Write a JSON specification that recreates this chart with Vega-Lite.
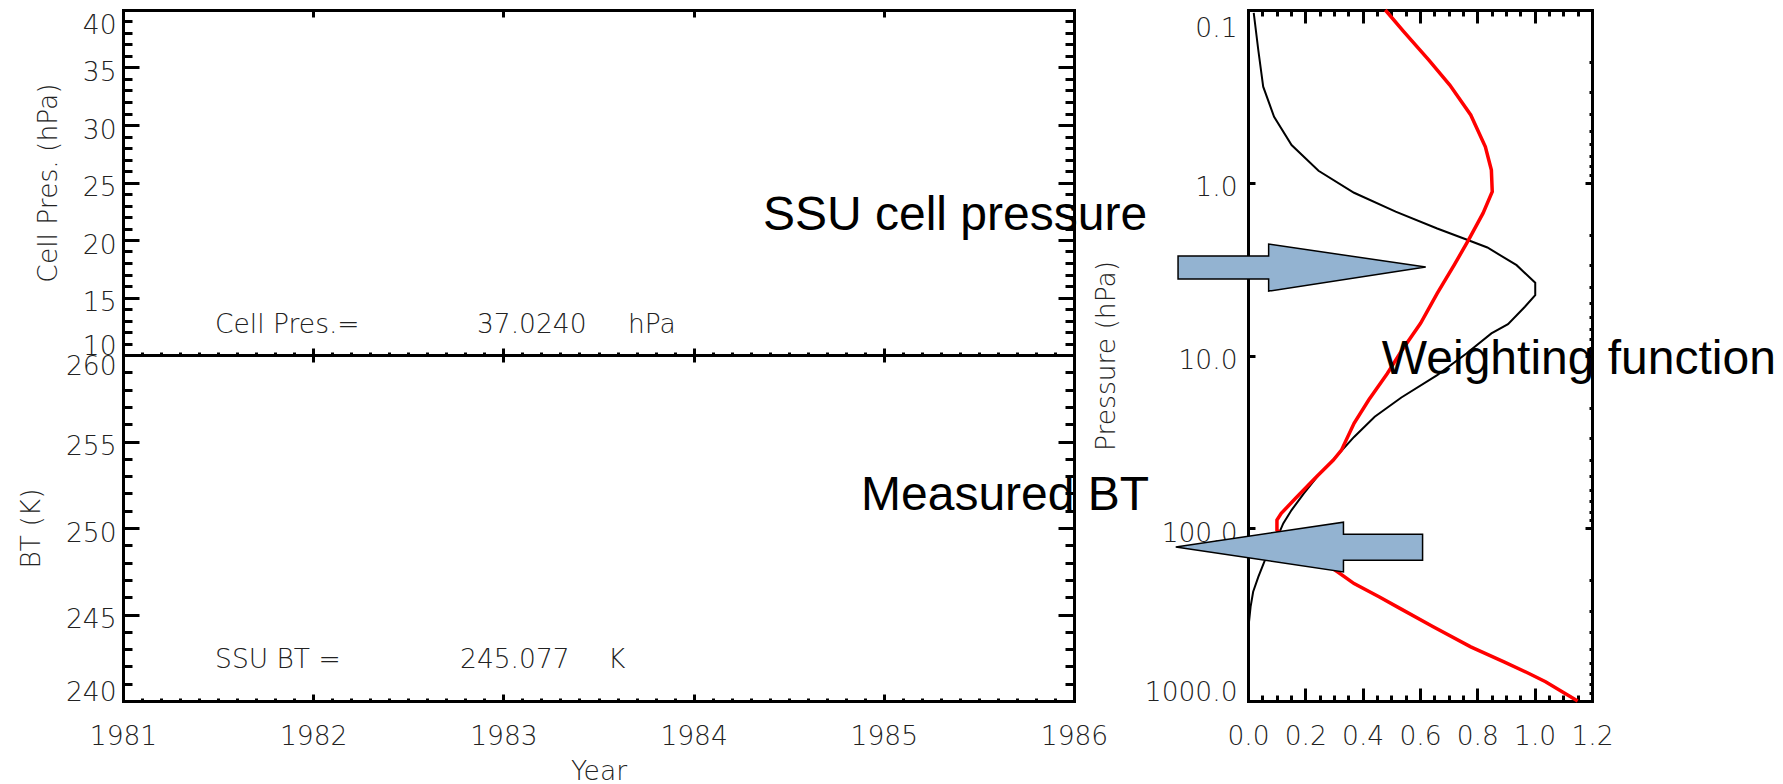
{
  "$schema": "https://vega.github.io/schema/vega-lite/v6.json",
  "background": "white",
  "padding": {"left": 18, "top": 3, "right": 5, "bottom": 0},
  "config": {
    "view": {"stroke": null},
    "axis": {
      "domainColor": "black", "domainWidth": 3, "domainCap": "square",
      "tickColor": "black", "tickWidth": 3, "tickCap": "butt",
      "grid": false,
      "labelFont": "DejaVu Sans", "labelFontSize": 26.5, "labelFontWeight": 200, "labelColor": "#222",
      "titleFont": "DejaVu Sans", "titleFontSize": 26.5, "titleFontWeight": 200, "titleColor": "#222",
      "labelOverlap": false, "labelBound": false
    }
  },
  "datasets": {
    "annTop": [
      {"year": 1981.484, "v": 11.9, "txt": "Cell Pres.="},
      {"year": 1982.861, "v": 11.9, "txt": "37.0240"},
      {"year": 1983.655, "v": 11.9, "txt": "hPa"}
    ],
    "annBottom": [
      {"year": 1981.484, "v": 241.9, "txt": "SSU BT ="},
      {"year": 1982.772, "v": 241.9, "txt": "245.077"},
      {"year": 1983.55, "v": 241.9, "txt": "K"}
    ],
    "black": [
      {"i": 0, "w": 0.02, "p": 0.104},
      {"i": 1, "w": 0.036, "p": 0.171},
      {"i": 2, "w": 0.053, "p": 0.278},
      {"i": 3, "w": 0.091, "p": 0.415},
      {"i": 4, "w": 0.152, "p": 0.605},
      {"i": 5, "w": 0.246, "p": 0.852},
      {"i": 6, "w": 0.37, "p": 1.143},
      {"i": 7, "w": 0.515, "p": 1.47},
      {"i": 8, "w": 0.66, "p": 1.84},
      {"i": 9, "w": 0.762, "p": 2.13},
      {"i": 10, "w": 0.835, "p": 2.37},
      {"i": 11, "w": 0.937, "p": 3.0},
      {"i": 12, "w": 1.002, "p": 3.79},
      {"i": 13, "w": 1.002, "p": 4.47},
      {"i": 14, "w": 0.966, "p": 5.22},
      {"i": 15, "w": 0.907, "p": 6.58},
      {"i": 16, "w": 0.849, "p": 7.45},
      {"i": 17, "w": 0.762, "p": 9.73},
      {"i": 18, "w": 0.66, "p": 12.98},
      {"i": 19, "w": 0.535, "p": 17.5},
      {"i": 20, "w": 0.442, "p": 22.6},
      {"i": 21, "w": 0.37, "p": 29.6},
      {"i": 22, "w": 0.312, "p": 37.8},
      {"i": 23, "w": 0.246, "p": 49.3},
      {"i": 24, "w": 0.195, "p": 62.9},
      {"i": 25, "w": 0.152, "p": 78.5},
      {"i": 26, "w": 0.123, "p": 93.8},
      {"i": 27, "w": 0.108, "p": 107},
      {"i": 28, "w": 0.079, "p": 134},
      {"i": 29, "w": 0.057, "p": 156},
      {"i": 30, "w": 0.036, "p": 191},
      {"i": 31, "w": 0.018, "p": 233},
      {"i": 32, "w": 0.009, "p": 285},
      {"i": 33, "w": 0.003, "p": 356}
    ],
    "red": [
      {"i": 0, "w": 0.479, "p": 0.1},
      {"i": 1, "w": 0.544, "p": 0.134},
      {"i": 2, "w": 0.631, "p": 0.195},
      {"i": 3, "w": 0.704, "p": 0.272},
      {"i": 4, "w": 0.777, "p": 0.405},
      {"i": 5, "w": 0.828, "p": 0.619},
      {"i": 6, "w": 0.849, "p": 0.845},
      {"i": 7, "w": 0.852, "p": 1.127},
      {"i": 8, "w": 0.82, "p": 1.5},
      {"i": 9, "w": 0.769, "p": 2.15},
      {"i": 10, "w": 0.719, "p": 3.0},
      {"i": 11, "w": 0.66, "p": 4.37},
      {"i": 12, "w": 0.602, "p": 6.51},
      {"i": 13, "w": 0.537, "p": 9.31},
      {"i": 14, "w": 0.486, "p": 12.7},
      {"i": 15, "w": 0.421, "p": 18.1},
      {"i": 16, "w": 0.37, "p": 24.7},
      {"i": 17, "w": 0.326, "p": 35.3},
      {"i": 18, "w": 0.297, "p": 40.4},
      {"i": 19, "w": 0.239, "p": 50.4},
      {"i": 20, "w": 0.166, "p": 67.1},
      {"i": 21, "w": 0.116, "p": 82.0},
      {"i": 22, "w": 0.101, "p": 89.7},
      {"i": 23, "w": 0.101, "p": 102.5},
      {"i": 24, "w": 0.312, "p": 178.6},
      {"i": 25, "w": 0.37, "p": 209},
      {"i": 26, "w": 0.457, "p": 249},
      {"i": 27, "w": 0.53, "p": 291},
      {"i": 28, "w": 0.646, "p": 372},
      {"i": 29, "w": 0.777, "p": 486},
      {"i": 30, "w": 0.893, "p": 593},
      {"i": 31, "w": 0.98, "p": 693},
      {"i": 32, "w": 1.038, "p": 774},
      {"i": 33, "w": 1.096, "p": 885},
      {"i": 34, "w": 1.15, "p": 1000}
    ],
    "arrows": [
      {"arrow": "a", "k": 0, "w": -0.244, "p": 2.657},
      {"arrow": "a", "k": 1, "w": 0.072, "p": 2.657},
      {"arrow": "a", "k": 2, "w": 0.072, "p": 2.264},
      {"arrow": "a", "k": 3, "w": 0.62, "p": 3.077},
      {"arrow": "a", "k": 4, "w": 0.072, "p": 4.238},
      {"arrow": "a", "k": 5, "w": 0.072, "p": 3.611},
      {"arrow": "a", "k": 6, "w": -0.244, "p": 3.611},
      {"arrow": "b", "k": 0, "w": -0.252, "p": 128.2},
      {"arrow": "b", "k": 1, "w": 0.333, "p": 92.2},
      {"arrow": "b", "k": 2, "w": 0.333, "p": 108.2},
      {"arrow": "b", "k": 3, "w": 0.609, "p": 108.2},
      {"arrow": "b", "k": 4, "w": 0.609, "p": 153},
      {"arrow": "b", "k": 5, "w": 0.333, "p": 153},
      {"arrow": "b", "k": 6, "w": 0.333, "p": 178.9}
    ],
    "bigLabels": [
      {"w": -1.692, "p": 1.879, "txt": "SSU cell pressure"},
      {"w": -1.35, "p": 78.6, "txt": "Measured BT"},
      {"w": 0.467, "p": 12.8, "txt": "Weighting function"}
    ]
  },
  "bounds": "flush",
  "spacing": 1125,
  "hconcat": [
    {
      "bounds": "flush",
      "spacing": 0,
      "vconcat": [
        {
          "width": 951,
          "height": 345,
          "data": {"name": "annTop"},
          "layer": [
            {
              "mark": {"type": "text", "align": "left", "baseline": "alphabetic", "font": "DejaVu Sans", "fontSize": 26.5, "fontWeight": 200, "color": "#222"},
              "encoding": {
                "x": {"field": "year", "type": "quantitative", "scale": {"domain": [1981, 1986], "nice": false, "zero": false},
                  "axis": {"orient": "bottom", "title": null, "labels": false,
                    "values": [1981,1981.1,1981.2,1981.3,1981.4,1981.5,1981.6,1981.7,1981.8,1981.9,1982,1982.1,1982.2,1982.3,1982.4,1982.5,1982.6,1982.7,1982.8,1982.9,1983,1983.1,1983.2,1983.3,1983.4,1983.5,1983.6,1983.7,1983.8,1983.9,1984,1984.1,1984.2,1984.3,1984.4,1984.5,1984.6,1984.7,1984.8,1984.9,1985,1985.1,1985.2,1985.3,1985.4,1985.5,1985.6,1985.7,1985.8,1985.9,1986],
                    "tickSize": {"condition": {"test": "abs(datum.value - round(datum.value)) < 0.001", "value": -7}, "value": -3}}},
                "y": {"field": "v", "type": "quantitative", "scale": {"domain": [10, 40], "nice": false, "zero": false},
                  "axis": {"orient": "left", "title": "Cell Pres. (hPa)",
                    "values": [10,11,12,13,14,15,16,17,18,19,20,21,22,23,24,25,26,27,28,29,30,31,32,33,34,35,36,37,38,39,40],
                    "tickSize": {"condition": {"test": "datum.value % 5 === 0", "value": -16}, "value": -9},
                    "labelExpr": "datum.value % 5 === 0 ? datum.label : ''",
                    "labelFlush": true, "labelPadding": 23,
                    "labelOffset": {"condition": {"test": "datum.value === 40", "value": 2}, "value": 5},
                    "titlePadding": 20}},
                "text": {"field": "txt"}
              }
            },
            {
              "mark": {"type": "text", "text": ""},
              "encoding": {
                "x": {"field": "year", "type": "quantitative", "scale": {"domain": [1981, 1986], "nice": false, "zero": false},
                  "axis": {"orient": "top", "title": null, "labels": false, "values": [1981, 1982, 1983, 1984, 1985, 1986], "tickSize": -7}},
                "y": {"field": "v", "type": "quantitative", "scale": {"domain": [10, 40], "nice": false, "zero": false},
                  "axis": {"orient": "right", "title": null, "labels": false,
                    "values": [10,11,12,13,14,15,16,17,18,19,20,21,22,23,24,25,26,27,28,29,30,31,32,33,34,35,36,37,38,39,40],
                    "tickSize": {"condition": {"test": "datum.value % 5 === 0", "value": -16}, "value": -9}}}
              }
            }
          ],
          "resolve": {"axis": {"x": "independent", "y": "independent"}}
        },
        {
          "width": 951,
          "height": 346,
          "data": {"name": "annBottom"},
          "layer": [
            {
              "mark": {"type": "text", "align": "left", "baseline": "alphabetic", "font": "DejaVu Sans", "fontSize": 26.5, "fontWeight": 200, "color": "#222"},
              "encoding": {
                "x": {"field": "year", "type": "quantitative", "scale": {"domain": [1981, 1986], "nice": false, "zero": false},
                  "axis": {"orient": "bottom", "title": "Year", "format": ".0f", "labelFlush": false, "labelOverlap": false,
                    "values": [1981,1981.1,1981.2,1981.3,1981.4,1981.5,1981.6,1981.7,1981.8,1981.9,1982,1982.1,1982.2,1982.3,1982.4,1982.5,1982.6,1982.7,1982.8,1982.9,1983,1983.1,1983.2,1983.3,1983.4,1983.5,1983.6,1983.7,1983.8,1983.9,1984,1984.1,1984.2,1984.3,1984.4,1984.5,1984.6,1984.7,1984.8,1984.9,1985,1985.1,1985.2,1985.3,1985.4,1985.5,1985.6,1985.7,1985.8,1985.9,1986],
                    "tickSize": {"condition": {"test": "abs(datum.value - round(datum.value)) < 0.001", "value": -7}, "value": -3},
                    "labelExpr": "abs(datum.value - round(datum.value)) < 0.001 ? datum.label : ''",
                    "labelPadding": 29, "titlePadding": 5}},
                "y": {"field": "v", "type": "quantitative", "scale": {"domain": [240, 260], "nice": false, "zero": false},
                  "axis": {"orient": "left", "title": "BT (K)",
                    "values": [240,241,242,243,244,245,246,247,248,249,250,251,252,253,254,255,256,257,258,259,260],
                    "tickSize": {"condition": {"test": "datum.value % 5 === 0", "value": -16}, "value": -9},
                    "labelExpr": "datum.value % 5 === 0 ? datum.label : ''",
                    "labelFlush": true, "labelPadding": 23,
                    "labelOffset": {"condition": {"test": "datum.value === 260", "value": -2}, "value": 5},
                    "titlePadding": 20}},
                "text": {"field": "txt"}
              }
            },
            {
              "mark": {"type": "text", "text": ""},
              "encoding": {
                "x": {"field": "year", "type": "quantitative", "scale": {"domain": [1981, 1986], "nice": false, "zero": false},
                  "axis": {"orient": "top", "title": null, "labels": false, "values": [1981, 1982, 1983, 1984, 1985, 1986], "tickSize": -7}},
                "y": {"field": "v", "type": "quantitative", "scale": {"domain": [240, 260], "nice": false, "zero": false},
                  "axis": {"orient": "right", "title": null, "labels": false,
                    "values": [240,241,242,243,244,245,246,247,248,249,250,251,252,253,254,255,256,257,258,259,260],
                    "tickSize": {"condition": {"test": "datum.value % 5 === 0", "value": -16}, "value": -9}}}
              }
            }
          ],
          "resolve": {"axis": {"x": "independent", "y": "independent"}}
        }
      ]
    },
    {
      "width": 344,
      "height": 691,
      "layer": [
        {
          "data": {"name": "black"},
          "mark": {"type": "line", "color": "black", "strokeWidth": 2},
          "encoding": {
            "x": {"field": "w", "type": "quantitative", "scale": {"domain": [0, 1.2], "nice": false, "zero": false},
              "axis": {"orient": "bottom", "title": null, "format": ".1f", "labelFlush": false,
                "values": [0,0.05,0.1,0.15,0.2,0.25,0.3,0.35,0.4,0.45,0.5,0.55,0.6,0.65,0.7,0.75,0.8,0.85,0.9,0.95,1,1.05,1.1,1.15,1.2],
                "tickSize": {"condition": {"test": "abs(datum.value*5 - round(datum.value*5)) < 0.001", "value": -13}, "value": -6},
                "labelExpr": "abs(datum.value*5 - round(datum.value*5)) < 0.001 ? datum.label : ''",
                "labelPadding": 35}},
            "y": {"field": "p", "type": "quantitative", "scale": {"type": "log", "domain": [0.1, 1000], "reverse": true, "nice": false},
              "axis": {"orient": "left", "title": "Pressure (hPa)", "format": ".1f",
                "values": [0.1, 1, 10, 100, 1000], "tickSize": -7,
                "labelFlush": true, "labelPadding": 18, "labelOffset": 5, "titlePadding": 24}},
            "order": {"field": "i"}
          }
        },
        {
          "data": {"name": "red"},
          "mark": {"type": "line", "color": "#ff0000", "strokeWidth": 3.5},
          "encoding": {
            "x": {"field": "w", "type": "quantitative", "scale": {"domain": [0, 1.2], "nice": false, "zero": false},
              "axis": {"orient": "top", "title": null, "labels": false,
                "values": [0,0.05,0.1,0.15,0.2,0.25,0.3,0.35,0.4,0.45,0.5,0.55,0.6,0.65,0.7,0.75,0.8,0.85,0.9,0.95,1,1.05,1.1,1.15,1.2],
                "tickSize": {"condition": {"test": "abs(datum.value*5 - round(datum.value*5)) < 0.001", "value": -13}, "value": -6}}},
            "y": {"field": "p", "type": "quantitative", "scale": {"type": "log", "domain": [0.1, 1000], "reverse": true, "nice": false},
              "axis": {"orient": "right", "title": null, "labels": false,
                "values": [0.1,0.2,0.3,0.4,0.5,0.6,0.7,0.8,0.9,1,2,3,4,5,6,7,8,9,10,20,30,40,50,60,70,80,90,100,200,300,400,500,600,700,800,900,1000],
                "tickSize": {"condition": {"test": "abs(log(datum.value)/LN10 - round(log(datum.value)/LN10)) < 0.001", "value": -7}, "value": -3}}},
            "order": {"field": "i"}
          }
        },
        {
          "data": {"name": "arrows"},
          "mark": {"type": "line", "interpolate": "linear-closed", "fill": "#93b3d1", "stroke": "black", "strokeWidth": 1.5},
          "encoding": {
            "x": {"field": "w", "type": "quantitative", "scale": {"domain": [0, 1.2], "nice": false, "zero": false}, "axis": null},
            "y": {"field": "p", "type": "quantitative", "scale": {"type": "log", "domain": [0.1, 1000], "reverse": true, "nice": false}, "axis": null},
            "detail": {"field": "arrow"},
            "order": {"field": "k"}
          }
        },
        {
          "data": {"name": "bigLabels"},
          "mark": {"type": "text", "align": "left", "baseline": "alphabetic", "font": "Liberation Sans", "fontSize": 48, "color": "black"},
          "encoding": {
            "x": {"field": "w", "type": "quantitative", "scale": {"domain": [0, 1.2], "nice": false, "zero": false}, "axis": null},
            "y": {"field": "p", "type": "quantitative", "scale": {"type": "log", "domain": [0.1, 1000], "reverse": true, "nice": false}, "axis": null},
            "text": {"field": "txt"}
          }
        }
      ],
      "resolve": {"axis": {"x": "independent", "y": "independent"}}
    }
  ]
}
